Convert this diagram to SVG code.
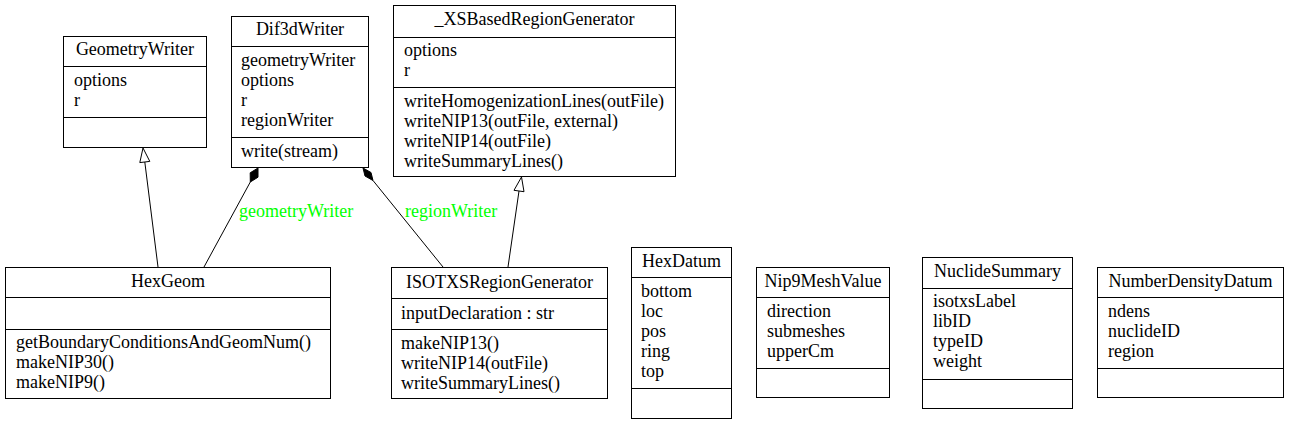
<svg xmlns="http://www.w3.org/2000/svg" width="1289" height="425" viewBox="0 0 1289 425">
<style>
.box{fill:#fff;stroke:#000;stroke-width:1}
.div{stroke:#000;stroke-width:1}
.t{text-anchor:middle}
.lbl{fill:#00ff00}
.edge{stroke:#000;stroke-width:1;fill:none}
.hollow{fill:#fff;stroke:#000;stroke-width:1}
.filled{fill:#000;stroke:#000;stroke-width:1}
</style>
<rect width="1289" height="425" fill="#fff"/>
<g font-family="Liberation Serif, Times New Roman, serif" font-size="18" fill="#000">

<g id="GeometryWriter">
<rect class="box" x="63.5" y="36.5" width="143" height="111"/>
<line class="div" x1="63.5" y1="66.5" x2="206.5" y2="66.5"/>
<line class="div" x1="63.5" y1="117.5" x2="206.5" y2="117.5"/>
<text class="t" x="135" y="55">GeometryWriter</text>
<text x="74" y="86">options</text>
<text x="74" y="106">r</text>
</g>

<g id="Dif3dWriter">
<rect class="box" x="231.5" y="16.5" width="137" height="151"/>
<line class="div" x1="231.5" y1="46.5" x2="368.5" y2="46.5"/>
<line class="div" x1="231.5" y1="137.5" x2="368.5" y2="137.5"/>
<text class="t" x="300" y="35">Dif3dWriter</text>
<text x="241" y="66">geometryWriter</text>
<text x="241" y="86">options</text>
<text x="241" y="106">r</text>
<text x="241" y="126">regionWriter</text>
<text x="241" y="157">write(stream)</text>
</g>

<g id="XSBasedRegionGenerator">
<rect class="box" x="393.5" y="5.5" width="282" height="171"/>
<line class="div" x1="393.5" y1="37.5" x2="675.5" y2="37.5"/>
<line class="div" x1="393.5" y1="87.5" x2="675.5" y2="87.5"/>
<text class="t" x="534.5" y="25">_XSBasedRegionGenerator</text>
<text x="404" y="56">options</text>
<text x="404" y="76">r</text>
<text x="404" y="107">writeHomogenizationLines(outFile)</text>
<text x="404" y="127">writeNIP13(outFile, external)</text>
<text x="404" y="147">writeNIP14(outFile)</text>
<text x="404" y="167">writeSummaryLines()</text>
</g>

<g id="HexGeom">
<rect class="box" x="5.5" y="267.5" width="325" height="131"/>
<line class="div" x1="5.5" y1="297.5" x2="330.5" y2="297.5"/>
<line class="div" x1="5.5" y1="329.5" x2="330.5" y2="329.5"/>
<text class="t" x="168" y="287">HexGeom</text>
<text x="16" y="348">getBoundaryConditionsAndGeomNum()</text>
<text x="16" y="368">makeNIP30()</text>
<text x="16" y="388">makeNIP9()</text>
</g>

<g id="ISOTXSRegionGenerator">
<rect class="box" x="391.5" y="267.5" width="216" height="131"/>
<line class="div" x1="391.5" y1="298.5" x2="607.5" y2="298.5"/>
<line class="div" x1="391.5" y1="329.5" x2="607.5" y2="329.5"/>
<text class="t" x="499.5" y="288">ISOTXSRegionGenerator</text>
<text x="401" y="319">inputDeclaration : str</text>
<text x="401" y="349">makeNIP13()</text>
<text x="401" y="369">writeNIP14(outFile)</text>
<text x="401" y="389">writeSummaryLines()</text>
</g>

<g id="HexDatum">
<rect class="box" x="631.5" y="247.5" width="100" height="171"/>
<line class="div" x1="631.5" y1="277.5" x2="731.5" y2="277.5"/>
<line class="div" x1="631.5" y1="388.5" x2="731.5" y2="388.5"/>
<text class="t" x="681.5" y="267">HexDatum</text>
<text x="641" y="297">bottom</text>
<text x="641" y="317">loc</text>
<text x="641" y="337">pos</text>
<text x="641" y="357">ring</text>
<text x="641" y="377">top</text>
</g>

<g id="Nip9MeshValue">
<rect class="box" x="756.5" y="267.5" width="133" height="130"/>
<line class="div" x1="756.5" y1="297.5" x2="889.5" y2="297.5"/>
<line class="div" x1="756.5" y1="368.5" x2="889.5" y2="368.5"/>
<text class="t" x="823" y="287">Nip9MeshValue</text>
<text x="767" y="317">direction</text>
<text x="767" y="337">submeshes</text>
<text x="767" y="357">upperCm</text>
</g>

<g id="NuclideSummary">
<rect class="box" x="922.5" y="257.5" width="150" height="151"/>
<line class="div" x1="922.5" y1="288.5" x2="1072.5" y2="288.5"/>
<line class="div" x1="922.5" y1="379.5" x2="1072.5" y2="379.5"/>
<text class="t" x="997.5" y="277">NuclideSummary</text>
<text x="933" y="307">isotxsLabel</text>
<text x="933" y="327">libID</text>
<text x="933" y="347">typeID</text>
<text x="933" y="367">weight</text>
</g>

<g id="NumberDensityDatum">
<rect class="box" x="1097.5" y="267.5" width="186" height="130"/>
<line class="div" x1="1097.5" y1="297.5" x2="1283.5" y2="297.5"/>
<line class="div" x1="1097.5" y1="368.5" x2="1283.5" y2="368.5"/>
<text class="t" x="1190.5" y="287">NumberDensityDatum</text>
<text x="1108" y="317">ndens</text>
<text x="1108" y="337">nuclideID</text>
<text x="1108" y="357">region</text>
</g>

<g id="connectors">
<line class="edge" x1="158" y1="267" x2="144.8" y2="162"/>
<polygon class="hollow" points="143,148 149.8,161.4 139.8,162.6"/>

<line class="edge" x1="204" y1="267" x2="250.3" y2="182"/>
<polygon class="filled" points="258,168 258,177.2 250.3,182 250.2,172.8"/>
<text class="lbl" x="239" y="217">geometryWriter</text>

<line class="edge" x1="443" y1="267" x2="373" y2="180.5"/>
<polygon class="filled" points="363,168 371,172.5 373,180.5 365,176"/>
<text class="lbl" x="405" y="217">regionWriter</text>

<line class="edge" x1="508" y1="267" x2="519" y2="191"/>
<polygon class="hollow" points="521.5,177 524,191.7 514,190.3"/>
</g>
</g>
</svg>
